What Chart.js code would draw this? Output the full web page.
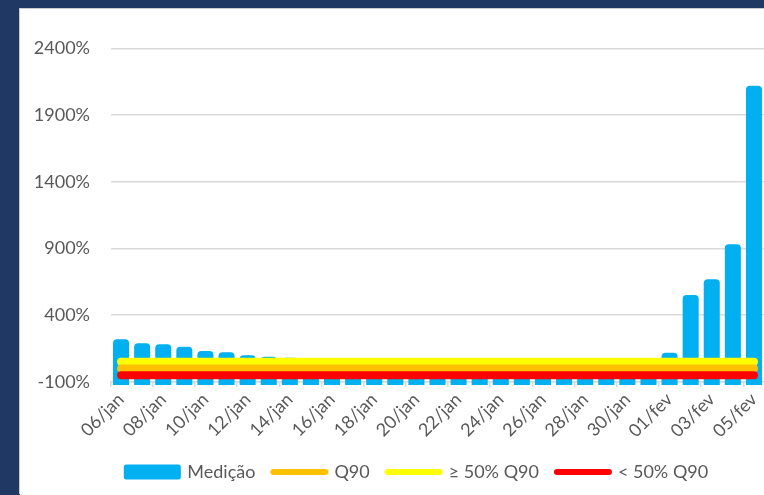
<!DOCTYPE html>
<html>
<head>
<meta charset="utf-8">
<script src="https://cdn.jsdelivr.net/npm/chart.js@4.4.1/dist/chart.umd.min.js"></script>
<style>
  html, body { margin: 0; padding: 0; overflow: hidden; background: #1F3864; width: 764px; height: 495px; }
  #panel { position: absolute; left: 20px; top: 9px; width: 783px; height: 486px; background: #ffffff; box-shadow: -1px -1px 0 #c9ccd3; }
  canvas { display: block; }
</style>
</head>
<body>
<div id="panel"><canvas id="c" width="783" height="486"></canvas></div>
<script>
// ---- data ----
const categories = [
  '06/jan','07/jan','08/jan','09/jan','10/jan','11/jan','12/jan','13/jan','14/jan','15/jan',
  '16/jan','17/jan','18/jan','19/jan','20/jan','21/jan','22/jan','23/jan','24/jan','25/jan',
  '26/jan','27/jan','28/jan','29/jan','30/jan','31/jan','01/fev','02/fev','03/fev','04/fev','05/fev'
];
const medicao = [
  219, 189, 181, 163, 131, 121, 99, 88, 80, 70,
  65, 60, 55, 50, 48, 45, 42, 40, 40, 38,
  36, 35, 35, 34, 34, 40, 118, 551, 669, 931, 2119
];
const q90 = [
  0,0,0,0,0,0,0,0,0,0, 0,0,0,0,0,0,0,0,0,0, 0,0,0,0,0,0,0,0,0,0,0
];
const acima50 = [
  50,50,50,50,50,50,50,50,50,50, 50,50,50,50,50,50,50,50,50,50, 50,50,50,50,50,50,50,50,50,50,50
];
const abaixo50 = [
  -50,-50,-50,-50,-50,-50,-50,-50,-50,-50, -50,-50,-50,-50,-50,-50,-50,-50,-50,-50,
  -50,-50,-50,-50,-50,-50,-50,-50,-50,-50,-50
];
const yTicks = [-100, 400, 900, 1400, 1900, 2400];
const seriesNames = ['Medição', 'Q90', '≥ 50% Q90', '< 50% Q90'];

const BLUE = '#00B0F0', ORANGE = '#FFC000', YELLOW = '#FFFF00', RED = '#FF0000';
const TEXT = '#595959', GRID = '#D9D9D9';

Chart.defaults.font.family = 'Lato, "Open Sans", sans-serif';
Chart.defaults.color = TEXT;

const lineStyle = (color) => ({
  type: 'line', borderColor: color, backgroundColor: color, borderWidth: 8,
  borderCapStyle: 'round', borderJoinStyle: 'round', pointRadius: 0, pointHoverRadius: 0,
  fill: false, tension: 0
});

// shift the centred legend a little to the right, as in the reference
const legendShift = {
  id: 'legendShift',
  afterLayout(chart) {
    if (chart.legend) { chart.legend.left += 25; chart.legend.right += 25; }
  }
};

new Chart(document.getElementById('c'), {
  type: 'bar',
  data: {
    labels: categories,
    datasets: [
      { type: 'bar', label: seriesNames[0], data: medicao, backgroundColor: BLUE, base: -124,
        barPercentage: 0.76, categoryPercentage: 1.0,
        borderRadius: { topLeft: 4, topRight: 4, bottomLeft: 0, bottomRight: 0 },
        borderSkipped: 'start', clip: false, order: 10, legendColor: BLUE },
      Object.assign(lineStyle(ORANGE), { label: seriesNames[1], data: q90, order: 2, legendColor: ORANGE }),
      Object.assign(lineStyle(YELLOW), { label: seriesNames[2], data: acima50, order: 3, legendColor: YELLOW }),
      Object.assign(lineStyle(RED), { label: seriesNames[3], data: abaixo50, order: 1, legendColor: RED })
    ]
  },
  plugins: [legendShift],
  options: {
    responsive: false,
    animation: false,
    devicePixelRatio: 1,
    layout: { padding: { top: 39.3, right: 38.5, left: 0, bottom: 4 } },
    plugins: {
      tooltip: { enabled: false },
      legend: {
        position: 'bottom',
        labels: {
          font: { size: 18 },
          color: TEXT,
          usePointStyle: true,
          pointStyleWidth: 52,
          boxHeight: 10,
          padding: 18,
          generateLabels: (chart) => chart.data.datasets.map((ds, i) => ({
            text: ds.label,
            datasetIndex: i,
            fillStyle: ds.legendColor,
            strokeStyle: ds.legendColor,
            lineWidth: i === 0 ? 5 : 6,
            lineCap: 'round',
            lineJoin: 'round',
            pointStyle: i === 0 ? 'rect' : 'line',
            fontColor: TEXT,
            hidden: false
          }))
        }
      }
    },
    scales: {
      x: {
        z: 1,
        offset: true,
        afterFit: (s) => { s.height = 63.2; },
        grid: {
          offset: true,
          drawOnChartArea: false,
          drawTicks: true,
          tickLength: 5,
          color: (ctx) => (ctx.index % 2 === 0 ? GRID : 'rgba(0,0,0,0)'),
          lineWidth: 1.5
        },
        border: { display: true, color: GRID, width: 1.5 },
        ticks: {
          autoSkip: false,
          maxRotation: 45,
          minRotation: 45,
          padding: 2,
          font: { size: 18 },
          color: TEXT,
          callback: function (v, i) { return i % 2 === 0 ? categories[i] : ''; }
        }
      },
      y: {
        min: -100,
        max: 2400,
        afterFit: (s) => { s.width = 90.5; },
        afterBuildTicks: (s) => { s.ticks = yTicks.map(v => ({ value: v })); },
        grid: { color: GRID, lineWidth: 1.5, drawTicks: false },
        border: { display: false },
        ticks: {
          padding: 20.5,
          font: { size: 18 },
          color: TEXT,
          callback: (v) => v + '%'
        }
      }
    }
  }
});
</script>
</body>
</html>
